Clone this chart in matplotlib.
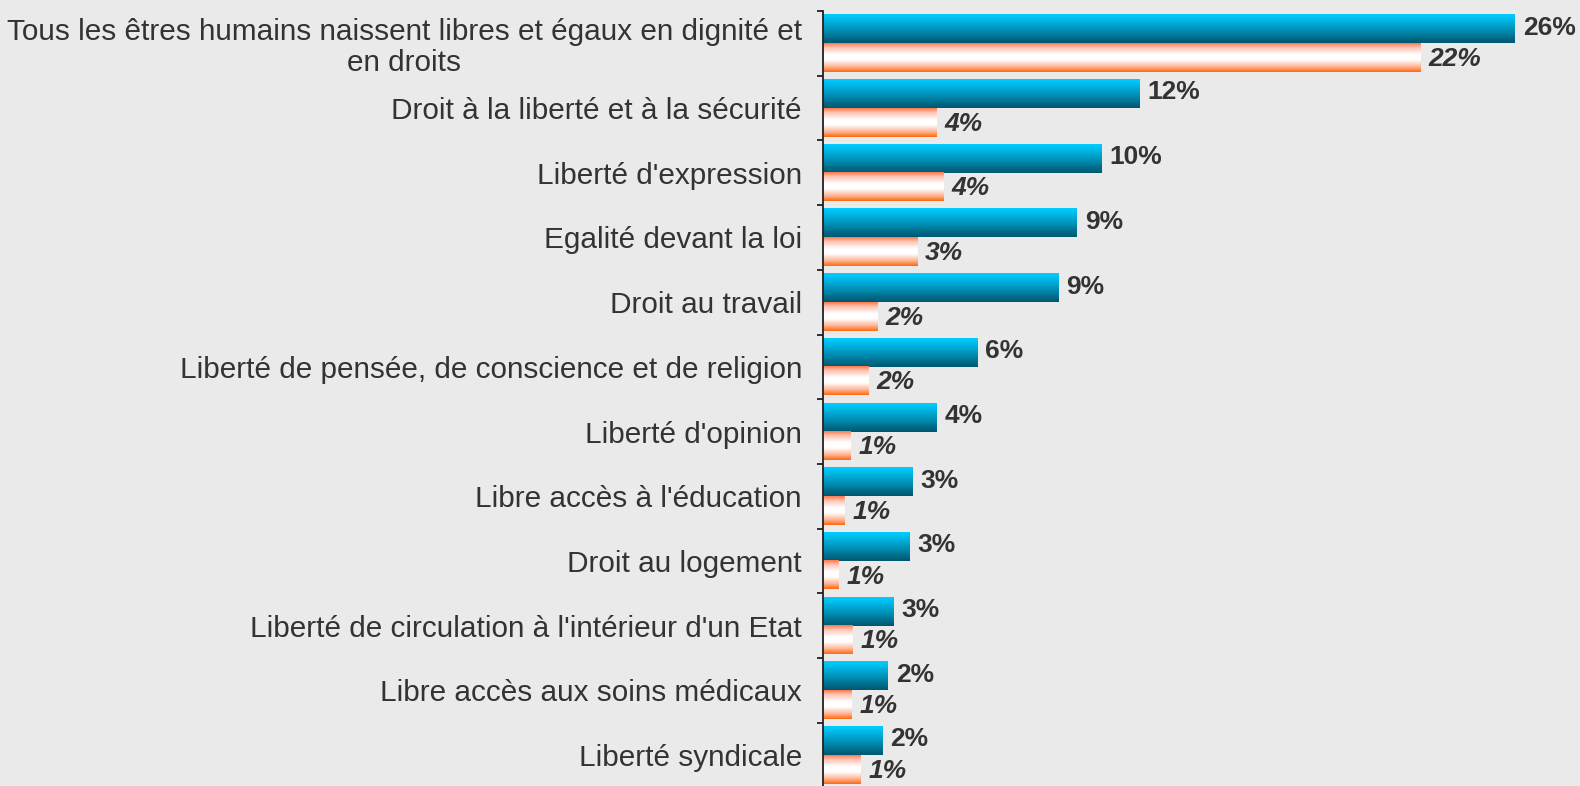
import numpy as np
import matplotlib
matplotlib.use("Agg")
import matplotlib.pyplot as plt
from matplotlib.colors import to_rgb

# Chart data
categories = [
    "Tous les êtres humains naissent libres et égaux en dignité et\nen droits",
    "Droit à la liberté et à la sécurité",
    "Liberté d'expression",
    "Egalité devant la loi",
    "Droit au travail",
    "Liberté de pensée, de conscience et de religion",
    "Liberté d'opinion",
    "Libre accès à l'éducation",
    "Droit au logement",
    "Liberté de circulation à l'intérieur d'un Etat",
    "Libre accès aux soins médicaux",
    "Liberté syndicale",
]
serie_1_values = [25.6, 11.7, 10.3, 9.4, 8.7, 5.7, 4.2, 3.3, 3.2, 2.6, 2.4, 2.2]
serie_2_values = [22.1, 4.2, 4.45, 3.48, 2.0, 1.67, 1.0, 0.78, 0.59, 1.1, 1.04, 1.37]
serie_1_labels = ["26%", "12%", "10%", "9%", "9%", "6%", "4%", "3%", "3%", "3%", "2%", "2%"]
serie_2_labels = ["22%", "4%", "4%", "3%", "2%", "2%", "1%", "1%", "1%", "1%", "1%", "1%"]

# Styling
background = "#eaeaea"
text_color = "#333333"
plt.rcParams["font.family"] = ["Liberation Sans", "DejaVu Sans"]


def gradient_image(stops, colors, n=64):
    # Vertical gradient (rows go from top to bottom of the bar)
    pos = np.linspace(0, 1, n)
    rgb = np.array([to_rgb(c) for c in colors])
    img = np.zeros((n, 1, 3))
    for k in range(3):
        img[:, 0, k] = np.interp(pos, stops, rgb[:, k])
    return img


blue_gradient = gradient_image([0, 0.1, 0.55, 1.0],
                               ["#00ccff", "#00c4f5", "#0090b6", "#00566f"])
orange_gradient = gradient_image([0, 0.15, 0.4, 0.58, 0.82, 1.0],
                                 ["#ff7a4a", "#ffc4b4", "#ffffff", "#ffffff", "#ffb494", "#ff6a10"])

fig = plt.figure(figsize=(15.8, 7.86), dpi=100, facecolor=background)
ax = fig.add_axes([0.5212, -0.0018, 0.4788, 0.9878])
ax.set_facecolor(background)

y = np.arange(len(categories))
bar_h = 0.44

bars_1 = ax.barh(y - bar_h / 2, serie_1_values, height=bar_h, facecolor="none", edgecolor="none")
bars_2 = ax.barh(y + bar_h / 2, serie_2_values, height=bar_h, facecolor="none", edgecolor="none")

# Paint the gradient inside every bar
for bars, grad in [(bars_1, blue_gradient), (bars_2, orange_gradient)]:
    for patch in bars:
        x0, y0 = patch.get_x(), patch.get_y()
        w, h = patch.get_width(), patch.get_height()
        ax.imshow(grad, extent=[x0, x0 + w, y0 + h, y0], aspect="auto",
                  interpolation="bilinear", zorder=2)

# Value labels
for patch, lab in zip(bars_1, serie_1_labels):
    ax.annotate(lab, (patch.get_width(), patch.get_y() + patch.get_height() / 2),
                xytext=(5.5, 1), textcoords="offset points", ha="left", va="center",
                fontsize=19, fontweight="bold", color=text_color)
for patch, lab in zip(bars_2, serie_2_labels):
    ax.annotate(lab, (patch.get_width(), patch.get_y() + patch.get_height() / 2),
                xytext=(5.5, -1), textcoords="offset points", ha="left", va="center",
                fontsize=19, fontweight="bold", fontstyle="italic", color=text_color)

# Axes limits
ax.set_xlim(0, 28.0)
ax.set_ylim(len(categories) - 0.5, -0.5)

# Y axis: labels at category centres, tick marks at the boundaries
ax.set_yticks(y)
ax.set_yticklabels(categories, fontsize=21.4, color=text_color)
for lab in ax.get_yticklabels():
    lab.set_multialignment("center")
    lab.set_linespacing(1.1)
ax.set_yticks(np.arange(-0.5, len(categories), 1), minor=True)
ax.tick_params(axis="y", which="major", length=0, pad=15.5)
ax.tick_params(axis="y", which="minor", length=4.5, width=1.3, color="#222222")
ax.set_xticks([])

for side in ["top", "right", "bottom"]:
    ax.spines[side].set_visible(False)
ax.spines["left"].set_color("#222222")
ax.spines["left"].set_linewidth(1.3)
ax.spines["left"].set_zorder(3)

fig.savefig("out.png", dpi=100, facecolor=background)
